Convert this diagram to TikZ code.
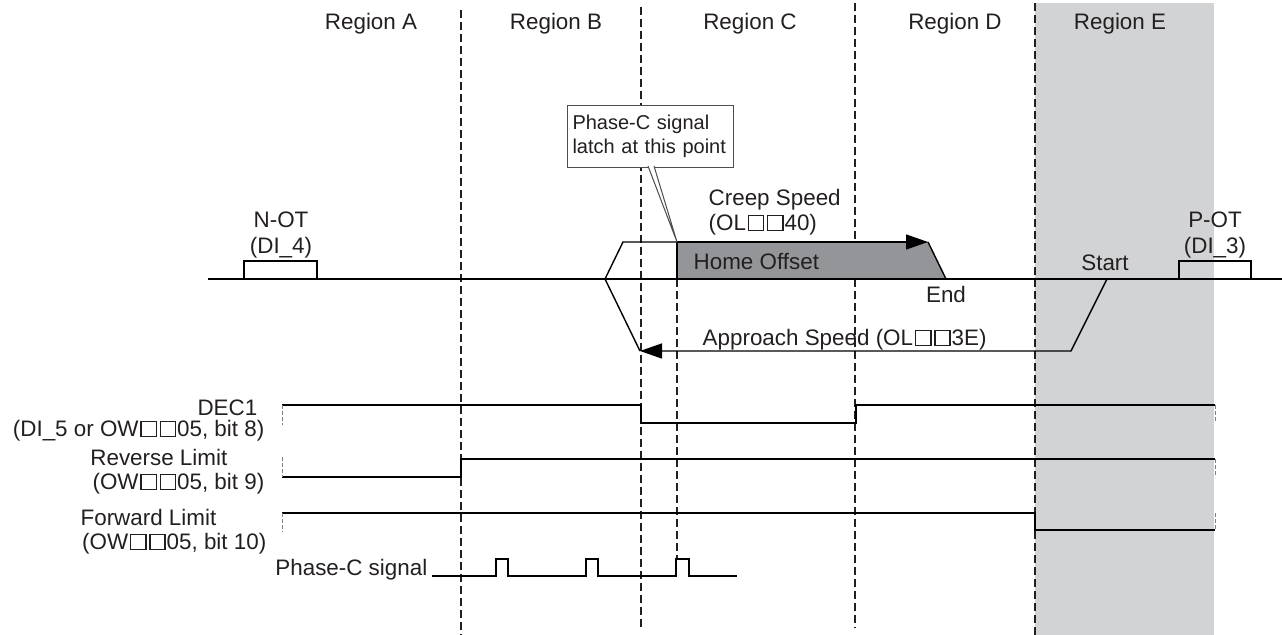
\documentclass[tikz,border=0pt]{standalone}
\usepackage{fontspec}
\setmainfont{Liberation Sans}
\usetikzlibrary{arrows.meta}

\definecolor{inkgray}{HTML}{231F20}
\definecolor{regiongray}{HTML}{D1D3D4}
\definecolor{offsetgray}{HTML}{939598}

% open square used in register names
\newcommand{\sqbox}{\hbox{\kern0.08em\vrule width0.06em\vbox{\hrule height0.06em width0.62em\vskip0.6em\hrule height0.06em}\vrule width0.06em\kern0.04em}}

\tikzset{
    divider/.style={draw=inkgray, line width=0.7pt, dash pattern=on 4pt off 2pt},
    endtick/.style={draw=gray, line width=0.5pt, dash pattern=on 2pt off 1pt},
    lbl/.style={inner sep=0pt, text=inkgray},
    speedarrow/.style={-{Triangle[length=11pt,width=7.5pt]}},
}

\begin{document}
\begin{tikzpicture}[x=0.5pt, y=-0.5pt, line width=0.7pt, font=\fontsize{11.2}{13}\selectfont]
    \useasboundingbox (0,0) rectangle (1282,635);

    % region E shading
    \fill[regiongray] (1035,3) rectangle (1214,635);

    % region labels
    \node[lbl, anchor=base] (regA) at (371,30) {Region A};
    \node[lbl, anchor=base] (regB) at (556,30) {Region B};
    \node[lbl, anchor=base] (regC) at (750,30) {Region C};
    \node[lbl, anchor=base] (regD) at (955,30) {Region D};
    \node[lbl, anchor=base] (regE) at (1120,30) {Region E};

    % region borders
    \draw[divider] (461,10) -- (461,635);
    \draw[divider] (641,7) -- (641,628);
    \draw[divider] (855,3) -- (855,628);
    \draw[divider] (1035,3) -- (1035,635);

    % home offset area
    \fill[offsetgray] (677,279) -- (677,242) -- (928,242) -- (946,279) -- cycle;
    \draw[divider] (677,279) -- (677,559);

    % axis
    \draw (208,279) -- (1282,279);

    % overtravel switches
    \draw (244,279) |- (317,261) -- (317,279);
    \draw (1179,279) |- (1251,261) -- (1251,279);
    \node[lbl, anchor=base] (notlbl) at (281,228) {N-OT};
    \node[lbl, anchor=base] (notdi) at (281,254) {(DI\_4)};
    \node[lbl, anchor=base] (potlbl) at (1215,228) {P-OT};
    \node[lbl, anchor=base] (potdi) at (1215,254) {(DI\_3)};

    % motion profile
    \coordinate (start) at (1107,279);
    \coordinate (apprend) at (640,351);
    \coordinate (latchpt) at (677,242);
    \coordinate (creepend) at (928,242);
    \draw[speedarrow] (start) -- (1071,351) -- (apprend);
    \draw (apprend) -- (605,279) -- (623,242) -- (latchpt);
    \draw[speedarrow] (latchpt) -- (creepend);
    \draw (creepend) -- (946,279);
    \draw (latchpt) -- (677,279);

    % profile labels
    \node[lbl, anchor=base west] (creep) at (708,206) {Creep Speed};
    \node[lbl, anchor=base west] (creepreg) at (708,231) {(OL\sqbox\sqbox40)};
    \node[lbl, anchor=base west] (offset) at (693,270) {Home Offset};
    \node[lbl, anchor=base] (endlbl) at (946,303) {End};
    \node[lbl, anchor=base] (startlbl) at (1105,271) {Start};
    \node[lbl, anchor=base west] (appr) at (702,346) {Approach Speed (OL\sqbox\sqbox3E)};

    % callout
    \node[draw=inkgray!80, line width=0.5pt, fill=white, lbl, anchor=north west,
          inner xsep=2.5pt, inner ysep=5pt, text width=78pt, align=left,
          font=\fontsize{10}{11.75}\selectfont] (latch) at (567,105)
          {Phase-C signal\\latch at this point};
    \filldraw[draw=inkgray!80, line width=0.5pt, fill=white]
        (648,166) -- (latchpt) -- (654,166);

    % signals
    \draw (282,405) -- (641,405) -- (641,423) -- (856,423) -- (856,405) -- (1215,405);
    \draw (282,477) -- (461,477) -- (461,459) -- (1215,459);
    \draw (282,513) -- (1035,513) -- (1035,530) -- (1215,530);
    \draw (432,576) -- (496,576) -- (496,559) -- (508,559) -- (508,576)
        -- (586,576) -- (586,559) -- (598,559) -- (598,576)
        -- (676,576) -- (676,559) -- (689,559) -- (689,576) -- (737,576);

    % signal ends
    \draw[endtick] (282,405) -- (282,425);
    \draw[endtick] (282,457) -- (282,477);
    \draw[endtick] (282,513) -- (282,532);
    \draw[endtick] (1215,405) -- (1215,423);
    \draw[endtick] (1215,459) -- (1215,477);
    \draw[endtick] (1215,513) -- (1215,530);

    % signal labels
    \node[lbl, anchor=base east] (dec) at (258,416) {DEC1};
    \node[lbl, anchor=base east] (decsrc) at (265,437) {(DI\_5 or OW\sqbox\sqbox05, bit 8)};
    \node[lbl, anchor=base east] (rev) at (228,466) {Reverse Limit};
    \node[lbl, anchor=base east] (revsrc) at (265,490) {(OW\sqbox\sqbox05, bit 9)};
    \node[lbl, anchor=base east] (fwd) at (217,526) {Forward Limit};
    \node[lbl, anchor=base east] (fwdsrc) at (267,550) {(OW\sqbox\sqbox05, bit 10)};
    \node[lbl, anchor=base east] (phc) at (428,576) {Phase-C signal};
\end{tikzpicture}
\end{document}
